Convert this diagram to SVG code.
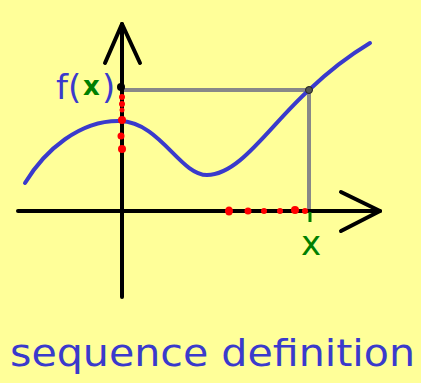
<svg xmlns="http://www.w3.org/2000/svg" width="421" height="383" viewBox="0 0 421 383">
<style>
.ax{stroke:#000;stroke-width:4;fill:none;stroke-linecap:round;stroke-linejoin:round}
.gr{stroke:#888;stroke-width:4;fill:none}
.cv{stroke:#3a3acc;stroke-width:4;fill:none;stroke-linecap:round}
.rd{fill:#f00}
.t{font-family:"DejaVu Sans",sans-serif;fill:#3a3acc}
</style>
<rect width="421" height="383" fill="#ffff99"/>
<g id="connectors">
<line class="gr" x1="122" y1="90" x2="309" y2="90"/>
<line class="gr" x1="309" y1="90" x2="309" y2="212"/>
</g>
<g id="axes">
<line class="ax" x1="122" y1="24" x2="122" y2="297"/>
<polyline class="ax" points="105,63 122,24 140,63"/>
<line class="ax" x1="18" y1="211" x2="380" y2="211"/>
<polyline class="ax" points="341,192 380,211 341,231"/>
</g>
<g id="curve">
<path class="cv" d="M25,183 C45,150 80,120 120,121 C160,122 180,175 207,175 C240,175 270,125 309,90 C330,70 350,55 370,43"/>
</g>
<g id="points">
<circle cx="121" cy="87" r="4" fill="#000"/>
<circle cx="309" cy="90" r="3.5" fill="#555" stroke="#222" stroke-width="1"/>
<circle class="rd" cx="122" cy="97" r="3"/>
<circle class="rd" cx="122" cy="104" r="3"/>
<circle class="rd" cx="122" cy="110" r="2.5"/>
<circle class="rd" cx="122" cy="120" r="4"/>
<circle class="rd" cx="121" cy="136" r="3.5"/>
<circle class="rd" cx="122" cy="149" r="4"/>
<ellipse class="rd" cx="229" cy="211" rx="4" ry="4.5"/>
<circle class="rd" cx="248" cy="211" r="3.5"/>
<circle class="rd" cx="264" cy="211" r="3"/>
<circle class="rd" cx="280" cy="211" r="3"/>
<circle class="rd" cx="295" cy="210" r="4"/>
<circle class="rd" cx="305" cy="211" r="3"/>
<line x1="310" y1="212" x2="310" y2="222" stroke="#008000" stroke-width="3"/>
</g>
<g id="labels">
<text class="t" x="56" y="99" font-size="34">f(</text>
<text x="83" y="95" font-size="26" font-family="DejaVu Sans,sans-serif" fill="#008000" font-weight="bold">x</text>
<text class="t" x="102" y="99" font-size="34">)</text>
<text x="301" y="255" font-size="34" font-family="DejaVu Sans,sans-serif" fill="#008000">x</text>
<text class="t" x="10" y="366" font-size="38" textLength="405" lengthAdjust="spacingAndGlyphs">sequence definition</text>
</g>
</svg>
